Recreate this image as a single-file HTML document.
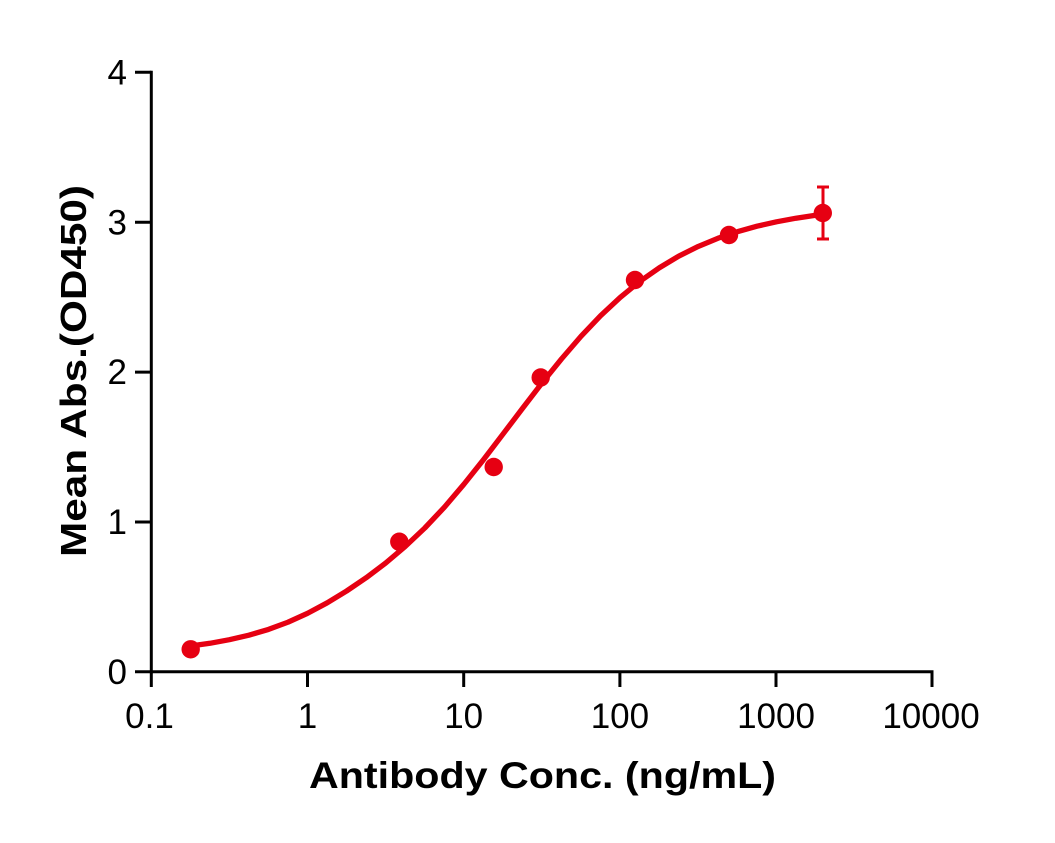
<!DOCTYPE html>
<html>
<head>
<meta charset="utf-8">
<style>
  html, body { margin: 0; padding: 0; background: #ffffff; }
  svg { display: block; }
</style>
</head>
<body>
<svg width="1055" height="843" viewBox="0 0 1055 843" xmlns="http://www.w3.org/2000/svg">
  <rect width="1055" height="843" fill="#ffffff"/>

  <!-- Axes -->
  <g stroke="#000" stroke-width="3" fill="none" stroke-linecap="butt">
    <line x1="151.3" y1="70.8" x2="151.3" y2="673.2"/>
    <line x1="135" y1="671.8" x2="933.5" y2="671.8"/>
    <!-- y ticks -->
    <line x1="135" y1="72.3" x2="151.3" y2="72.3"/>
    <line x1="135" y1="222.3" x2="151.3" y2="222.3"/>
    <line x1="135" y1="372.1" x2="151.3" y2="372.1"/>
    <line x1="135" y1="522" x2="151.3" y2="522"/>
    <!-- x ticks -->
    <line x1="151.3" y1="671.8" x2="151.3" y2="687"/>
    <line x1="307.5" y1="671.8" x2="307.5" y2="687"/>
    <line x1="463.7" y1="671.8" x2="463.7" y2="687"/>
    <line x1="619.9" y1="671.8" x2="619.9" y2="687"/>
    <line x1="776" y1="671.8" x2="776" y2="687"/>
    <line x1="932" y1="671.8" x2="932" y2="687"/>
  </g>

  <!-- Y tick labels -->
  <g font-family="'Liberation Sans', Arial, sans-serif" font-size="35" fill="#000" text-anchor="end">
    <text x="127" y="84.3">4</text>
    <text x="127" y="234.3">3</text>
    <text x="127" y="384.1">2</text>
    <text x="127" y="534">1</text>
    <text x="127" y="683.8">0</text>
  </g>

  <!-- X tick labels -->
  <g font-family="'Liberation Sans', Arial, sans-serif" font-size="35" fill="#000" text-anchor="middle">
    <text x="149.5" y="728">0.1</text>
    <text x="307.5" y="728">1</text>
    <text x="463.7" y="728">10</text>
    <text x="619.9" y="728">100</text>
    <text x="776" y="728">1000</text>
    <text x="931" y="728">10000</text>
  </g>

  <!-- Axis titles -->
  <text x="309" y="788" font-family="'Liberation Sans', Arial, sans-serif" font-weight="bold" font-size="37" fill="#000" textLength="467" lengthAdjust="spacingAndGlyphs">Antibody Conc. (ng/mL)</text>
  <text transform="translate(86,557) rotate(-90)" x="0" y="0" font-family="'Liberation Sans', Arial, sans-serif" font-weight="bold" font-size="36" fill="#000" textLength="372" lengthAdjust="spacingAndGlyphs">Mean Abs.(OD450)</text>

  <!-- Fitted curve -->
  <polyline fill="none" stroke="#e60012" stroke-width="5.3" stroke-linejoin="round" stroke-linecap="round"
    points="191.3,645.9 209.9,643.3 229.4,639.7 248.9,635.2 268.5,629.4 288.0,622.2 307.55,613.3 327.1,602.9 346.6,591.0 366.2,577.7 385.7,563.0 405.2,546.5 424.8,528.0 444.3,507.3 463.8,484.4 483.4,459.8 502.9,434.2 522.5,408.4 542.0,383.0 561.6,358.8 581.1,336.2 600.6,315.7 620.2,297.4 639.7,281.5 659.3,267.8 678.8,256.1 698.3,246.4 717.9,238.3 737.4,231.7 757.0,226.2 776.5,221.8 796.0,218.2 815.6,215.3 823.4,214.3"/>

  <!-- Error bar -->
  <g stroke="#e60012" stroke-width="3" fill="none">
    <line x1="823" y1="187" x2="823" y2="239"/>
    <line x1="817" y1="187" x2="829" y2="187"/>
    <line x1="817" y1="239" x2="829" y2="239"/>
  </g>

  <!-- Data points -->
  <g fill="#e60012">
    <circle cx="190.7" cy="649.3" r="9.2"/>
    <circle cx="399.3" cy="541.7" r="9.2"/>
    <circle cx="493.7" cy="467" r="9.2"/>
    <circle cx="540.7" cy="377.5" r="9.2"/>
    <circle cx="635" cy="280" r="9.2"/>
    <circle cx="729" cy="235" r="9.2"/>
    <circle cx="822.8" cy="213" r="9.2"/>
  </g>
</svg>
</body>
</html>
